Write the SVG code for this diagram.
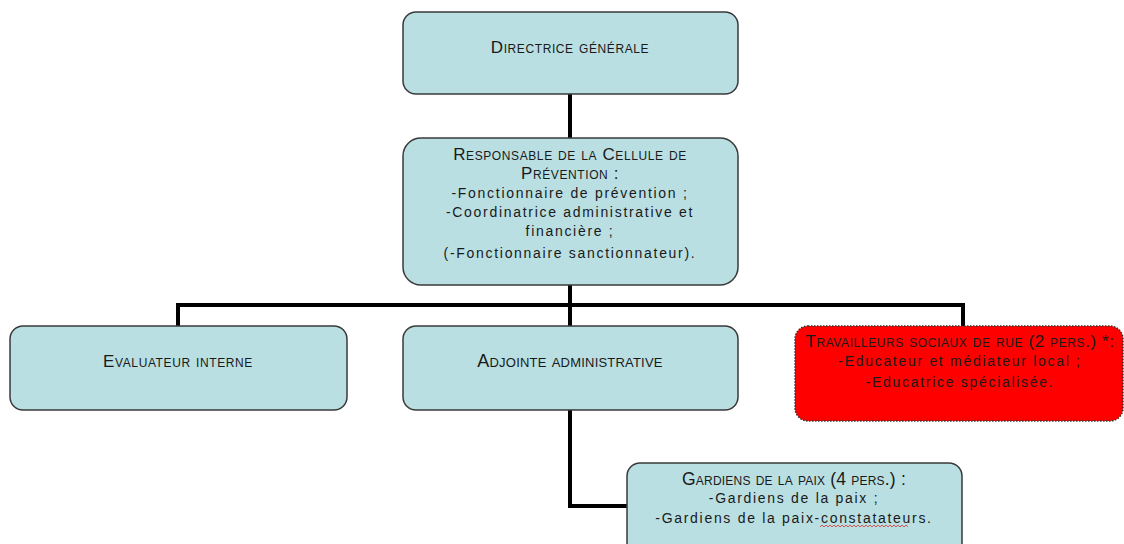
<svg xmlns="http://www.w3.org/2000/svg" width="1124" height="544" viewBox="0 0 1124 544">
<style>
.box{fill:#b9dfe2;stroke:#3a3a3a;stroke-width:1.5}
.red{fill:#ff0000;stroke:#333;stroke-width:1.5;stroke-dasharray:1.5 1.5}
.t{font-family:"Liberation Sans",Arial,sans-serif;font-size:14px;fill:#1a1a1a;text-anchor:middle;letter-spacing:1.7px}
.sc{font-variant:small-caps;font-size:17px;letter-spacing:0.6px}
.c{fill:none;stroke:#000;stroke-width:4}
</style>
<rect width="1124" height="544" fill="#fff"/>
<g id="connectors">
<path class="c" d="M570 94V138"/>
<path class="c" d="M570 285V326"/>
<path class="c" d="M178 326V305H963V326"/>
<path class="c" d="M570 410V506H627"/>
</g>
<g id="directrice">
<rect class="box" x="403" y="12" width="335" height="82" rx="13"/>
<text class="t sc" x="570" y="53">Directrice générale</text>
</g>
<g id="responsable">
<rect class="box" x="403" y="138" width="335" height="147" rx="18"/>
<text class="t" x="570" y="160"><tspan class="sc">Responsable de la Cellule de</tspan><tspan x="570" y="179" class="sc">Prévention :</tspan><tspan x="570" y="198">-Fonctionnaire de prévention ;</tspan><tspan x="570" y="217">-Coordinatrice administrative et</tspan><tspan x="570" y="236">financière ;</tspan><tspan x="570" y="258">(-Fonctionnaire sanctionnateur).</tspan></text>
</g>
<g id="evaluateur">
<rect class="box" x="10" y="326" width="337" height="84" rx="13"/>
<text class="t sc" x="178" y="367">Evaluateur interne</text>
</g>
<g id="adjointe">
<rect class="box" x="403" y="326" width="335" height="84" rx="13"/>
<text class="t sc" x="570" y="367" style="letter-spacing:0.2px;font-size:18px">Adjointe administrative</text>
</g>
<g id="travailleurs">
<rect class="red" x="795" y="326" width="328" height="95" rx="13"/>
<text class="t" x="960" y="347"><tspan class="sc">Travailleurs sociaux de rue (2 pers.) *:</tspan><tspan x="960" y="366">-Educateur et médiateur local ;</tspan><tspan x="960" y="387">-Educatrice spécialisée.</tspan></text>
</g>
<g id="gardiens">
<rect class="box" x="627" y="463" width="335" height="95" rx="13"/>
<text class="t" x="794" y="485"><tspan class="sc" style="font-size:17.5px;letter-spacing:0.2px">Gardiens de la paix (4 pers.) :</tspan><tspan x="794" y="503">-Gardiens de la paix ;</tspan><tspan x="794" y="523">-Gardiens de la paix-constatateurs.</tspan></text>
<path d="M820 527l2 -2l2 2l2 -2l2 2l2 -2l2 2l2 -2l2 2l2 -2l2 2l2 -2l2 2l2 -2l2 2l2 -2l2 2l2 -2l2 2l2 -2l2 2l2 -2l2 2l2 -2l2 2l2 -2l2 2l2 -2l2 2l2 -2l2 2l2 -2l2 2l2 -2l2 2l2 -2l2 2l2 -2l2 2l2 -2l2 2l2 -2l2 2l2 -2l2 2" fill="none" stroke="#e03030" stroke-width="0.8"/>
</g>
</svg>
